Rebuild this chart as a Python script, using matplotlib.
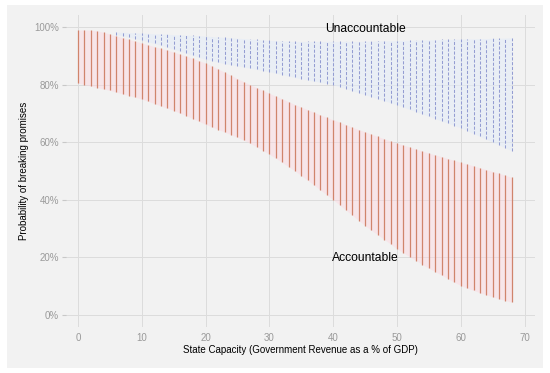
import numpy as np
import matplotlib
matplotlib.use("Agg")
import matplotlib.pyplot as plt
from matplotlib.patches import Rectangle
from matplotlib.ticker import FuncFormatter

plt.rcParams['font.family'] = ['Liberation Sans', 'DejaVu Sans']

# State capacity (x) for each vertical segment
acc_x = list(range(0, 69))
# Accountable: upper / lower probability (%)
acc_hi = [99.0, 99.0, 98.9, 98.7, 98.2, 97.6, 96.9, 96.3, 95.7, 95.1,
          94.5, 93.8, 93.2, 92.6, 92.0, 91.3, 90.6, 89.9, 89.1, 88.3,
          87.5, 86.5, 85.4, 84.3, 83.2, 82.1, 81.0, 80.0, 79.0, 78.0,
          77.0, 76.0, 75.1, 74.1, 73.1, 72.2, 71.3, 70.4, 69.5, 68.6,
          67.8, 67.0, 66.1, 65.2, 64.4, 63.6, 62.8, 62.0, 61.2, 60.4,
          59.7, 59.0, 58.3, 57.6, 56.9, 56.2, 55.6, 55.0, 54.3, 53.7,
          53.0, 52.4, 51.8, 51.1, 50.5, 49.8, 49.2, 48.5, 47.8]
acc_lo = [80.5, 80.0, 79.5, 79.0, 78.5, 78.0, 77.4, 76.8, 76.2, 75.6,
          75.0, 74.2, 73.4, 72.6, 71.8, 71.0, 70.1, 69.2, 68.2, 67.2,
          66.2, 65.3, 64.4, 63.5, 62.6, 61.7, 60.7, 59.6, 58.4, 57.1,
          55.8, 54.4, 53.0, 51.5, 50.0, 48.4, 46.8, 45.1, 43.4, 41.7,
          40.0, 38.2, 36.4, 34.6, 32.8, 31.0, 29.4, 27.8, 26.2, 24.6,
          23.0, 21.6, 20.2, 18.9, 17.5, 16.2, 15.0, 13.8, 12.6, 11.3,
          10.2, 9.3, 8.5, 7.7, 7.0, 6.3, 5.6, 5.0, 4.4]

# Unaccountable
unacc_x = list(range(6, 69))
unacc_hi = [98.3, 98.2, 98.1, 98.0,
            97.9, 97.8, 97.7, 97.6, 97.5, 97.4, 97.3, 97.2, 97.1, 97.0,
            96.9, 96.7, 96.6, 96.4, 96.3, 96.1, 96.0, 95.8, 95.7, 95.5,
            95.4, 95.3, 95.2, 95.1, 95.0, 95.0, 95.0, 95.0, 95.0, 95.0,
            95.0, 95.0, 95.0, 95.0, 95.0, 95.1, 95.1, 95.2, 95.2, 95.3,
            95.3, 95.4, 95.4, 95.5, 95.5, 95.6, 95.6, 95.7, 95.7, 95.8,
            95.8, 95.9, 95.9, 96.0, 96.0, 96.1, 96.1, 96.2, 96.3]
unacc_lo = [97.4, 97.0, 96.5, 96.0,
            95.5, 94.9, 94.3, 93.7, 93.0, 92.3, 91.6, 90.9, 90.2, 89.5,
            88.8, 88.3, 87.8, 87.3, 86.9, 86.5, 86.1, 85.7, 85.3, 84.9,
            84.5, 84.0, 83.5, 83.0, 82.5, 82.0, 81.6, 81.2, 80.8, 80.4,
            80.0, 79.3, 78.6, 77.9, 77.2, 76.5, 75.8, 75.1, 74.4, 73.7,
            73.0, 72.2, 71.4, 70.6, 69.8, 69.0, 68.2, 67.4, 66.6, 65.8,
            65.0, 64.0, 63.0, 62.0, 61.0, 60.0, 59.0, 58.0, 57.0]

x_ticks = [0, 10, 20, 30, 40, 50, 60, 70]
y_ticks = [0, 0.2, 0.4, 0.6, 0.8, 1.0]

BG = '#F2F2F2'
RED = '#D0846C'
BLUE = '#949DD2'

fig = plt.figure(figsize=(5.5, 3.73), dpi=100)
fig.patch.set_facecolor('white')
fig.patches.append(Rectangle((7 / 550, 5 / 373), 536 / 550, 363 / 373,
                             transform=fig.transFigure, facecolor=BG,
                             edgecolor='none', zorder=-10))

ax = fig.add_axes([66 / 550, 46 / 373, 469 / 550, 312 / 373])
ax.set_facecolor(BG)

ah = np.array(acc_hi) / 100
al = np.array(acc_lo) / 100
uh = np.array(unacc_hi) / 100
ul = np.array(unacc_lo) / 100

ax.fill_between(unacc_x, ul, uh, color='#E4ECF8', alpha=0.6, lw=0, zorder=1)
ax.vlines(unacc_x, ul, uh, color=BLUE, lw=0.75, linestyles=(0, (3, 1.6)), zorder=2)
ax.fill_between(acc_x, al, ah, color='#FFD6E0', alpha=0.45, lw=0, zorder=3)
ax.vlines(acc_x, al, ah, color=RED, lw=0.9, zorder=4)

ax.text(45, 0.995, 'Unaccountable', ha='center', va='center', fontsize=8.7, zorder=5)
ax.text(45, 0.198, 'Accountable', ha='center', va='center', fontsize=8.7, zorder=5)

ax.set_xlim(-1.88, 71.64)
ax.set_ylim(-0.042, 1.042)
ax.set_xticks(x_ticks)
ax.set_yticks(y_ticks)
ax.yaxis.set_major_formatter(FuncFormatter(lambda v, p: f"{v * 100:.0f}%"))
ax.grid(True, color='#DCDCDC', lw=0.7, zorder=0)
ax.set_axisbelow(True)
for s in ax.spines.values():
    s.set_visible(False)
ax.tick_params(axis='y', length=3, color='#C8C8C8', labelsize=7, labelcolor='#9A9A9A', pad=2)
ax.tick_params(axis='x', length=0, labelsize=7, labelcolor='#9A9A9A', pad=4)

ax.set_xlabel('State Capacity (Government Revenue as a % of GDP)', fontsize=7, labelpad=2)
ax.set_ylabel('Probability of breaking promises', fontsize=7, labelpad=4)

fig.savefig('out.png', dpi=100, facecolor=fig.get_facecolor())
